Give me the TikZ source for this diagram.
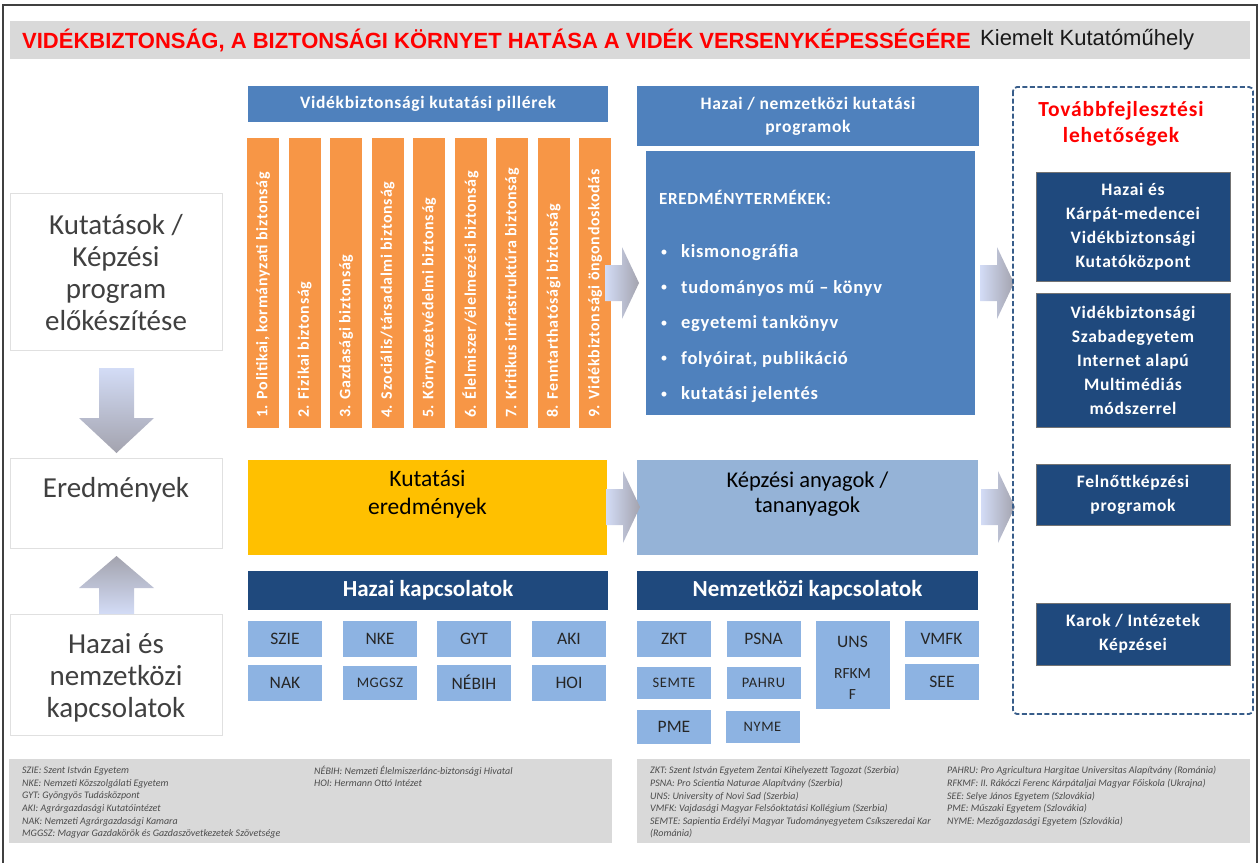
\documentclass[tikz,border=0pt]{standalone}
\usepackage{fontspec}
\setmainfont{Carlito}
\newfontfamily\ritka{Carlito}[LetterSpace=4]
\newfontfamily\cimfont{Liberation Sans}
\usetikzlibrary{positioning}
\definecolor{sav}{HTML}{D9D9D9}
\definecolor{kozepkek}{HTML}{4F81BD}
\definecolor{narancs}{HTML}{F79646}
\definecolor{arany}{HTML}{FFC000}
\definecolor{halvanykek}{HTML}{95B3D7}
\definecolor{sotetkek}{HTML}{1F497D}
\definecolor{kiskek}{HTML}{8DB3E2}
\definecolor{szaggatott}{HTML}{385D8A}
\definecolor{nyilvilag}{HTML}{D3DCF6}
\definecolor{nyilszurke}{HTML}{A3A3AE}
\newcommand{\betu}[2]{\fontsize{#1}{#2}\selectfont}
\tikzset{
  balbox/.style={draw=black!12, fill=white, inner sep=0pt, minimum width=212pt},
  baltext/.style={text=black!75, align=center, inner sep=0pt, font=\betu{29}{32}},
  fejlec/.style={fill=kozepkek, text=white, align=center, inner sep=0pt, font=\ritka\bfseries\betu{17.5}{23}},
  pillerbox/.style={fill=narancs, minimum width=32pt, minimum height=290pt, inner sep=0pt},
  pillertext/.style={rotate=90, anchor=west, text=white, inner sep=0pt, font=\ritka\bfseries\betu{16}{17}},
  kapcsfej/.style={fill=sotetkek, text=white, inner sep=0pt, minimum height=39pt, font=\bfseries\betu{23}{25}},
  kisbox/.style={fill=kiskek, text=black!85, align=center, inner sep=0pt, minimum width=74pt, minimum height=36pt, font=\betu{17.5}{19}},
  kisbetu/.style={font=\ritka\betu{14.5}{16}},
  termektext/.style={anchor=west, text=white, inner sep=0pt, font=\ritka\bfseries\betu{18.5}{20}},
  jobbbox/.style={fill=sotetkek, draw=black!55, text=white, align=center, inner sep=0pt, minimum width=194pt, font=\ritka\bfseries\betu{17.5}{24}},
  labjegy/.style={anchor=west, inner sep=0pt, text=black!70, font=\itshape\betu{10}{11}},
  labsav/.style={fill=sav, inner sep=0pt}
}

\begin{document}
\begin{tikzpicture}[x=1pt,y=-1pt]
\useasboundingbox (0,0) rectangle (1260,862);
\draw[line width=2pt, black!75] (3,870) -- (3,5) -- (1257,5) -- (1257,870);

% cim
\node (cimsav) [fill=sav, minimum width=1240pt, minimum height=38pt, inner sep=0pt] at (630,40) {};
\node (cim) [anchor=west, inner sep=0pt, text=red, font=\cimfont\bfseries\betu{22}{24}] at (22,40)
  {VIDÉKBIZTONSÁG, A BIZTONSÁGI KÖRNYET HATÁSA A VIDÉK VERSENYKÉPESSÉGÉRE};
\node (kiemelt) [right=9pt of cim, inner sep=0pt, text=black!90, font=\cimfont\betu{22}{24}] {Kiemelt Kutatóműhely};

% bal oszlop
\node (kutatasbox) [balbox, minimum height=157pt] at (116,271.5) {};
\node (kutatas) [baltext] at (116,273) {Kutatások /\\Képzési\\program\\előkészítése};
\node (eredmbox) [balbox, minimum height=90pt] at (116,503) {};
\node (eredm) [baltext] at (116,490) {Eredmények};
\node (kapcsbox) [balbox, minimum height=121pt] at (116,674.5) {};
\node (kapcs) [baltext] at (116,678) {Hazai és\\nemzetközi\\kapcsolatok};
\shade[top color=nyilvilag, middle color=nyilvilag, bottom color=nyilszurke]
  (99,368) -- (134,368) -- (134,418) -- (154,418) -- (116.5,453) -- (79,418) -- (99,418) -- cycle;
\shade[top color=nyilszurke, middle color=nyilvilag, bottom color=nyilvilag]
  (116.5,556) -- (154,588) -- (134,588) -- (134,614) -- (99,614) -- (99,588) -- (79,588) -- cycle;

% pillerek
\node (pillerfej) [fejlec, minimum width=360pt, minimum height=36pt] at (428,104) {Vidékbiztonsági kutatási pillérek};
\foreach \t [count=\i] in {{1. Politikai, kormányzati biztonság}, {2. Fizikai biztonság},
    {3. Gazdasági biztonság}, {4. Szociális/társadalmi biztonság}, {5. Környezetvédelmi biztonság},
    {6. Élelmiszer/élelmezési biztonság}, {7. Kritikus infrastruktúra biztonság},
    {8. Fenntarthatósági biztonság}, {9. Vidékbiztonsági öngondoskodás}} {
  \node (piller\i) [pillerbox] at (221.5+41.5*\i,283) {};
  \node (pillertxt\i) [pillertext] at (221.5+41.5*\i,418) {\t};
}
\node (kuteredm) [fill=arany, minimum width=359pt, minimum height=95pt, inner sep=0pt] at (427.5,507.5) {};
\node (kuteredmtxt) [align=center, inner sep=0pt, font=\betu{23.5}{28}] at (427.5,494) {Kutatási\\eredmények};
\node (hazaifej) [kapcsfej, minimum width=360pt] at (428,590.5) {Hazai kapcsolatok};
\foreach \t/\x/\y [count=\i] in {SZIE/285/639, NKE/380/639, GYT/474/639, AKI/569/639,
    NAK/285/682.5, NÉBIH/474/682.5, HOI/569/682.5}
  \node (hk\i) [kisbox] at (\x,\y) {\t};
\node (hk8) [kisbox, kisbetu, minimum height=34pt] at (380,682.5) {MGGSZ};

% programok
\node (progfej) [fejlec, minimum width=342pt, minimum height=60pt] at (808,116) {Hazai / nemzetközi kutatási\\programok};
\node (termekek) [fill=kozepkek, minimum width=329pt, minimum height=264pt, inner sep=0pt] at (810.5,283) {};
\node (termekcim) [termektext, font=\ritka\bfseries\betu{17}{19}] at (659,197) {EREDMÉNYTERMÉKEK:};
\foreach \t [count=\i] in {kismonográfia, tudományos mű – könyv, egyetemi tankönyv,
    {folyóirat, publikáció}, kutatási jelentés} {
  \node (pont\i) [text=white, inner sep=0pt, font=\betu{14}{16}] at (664,217.5+35.5*\i) {•};
  \node (termek\i) [termektext] at (681,217.5+35.5*\i) {\t};
}
\node (kepzesi) [fill=halvanykek, minimum width=341pt, minimum height=95pt, inner sep=0pt] at (807.5,507.5) {};
\node (kepzesitxt) [align=center, inner sep=0pt, font=\betu{22.5}{25}] at (807.5,494.5) {Képzési anyagok /\\tananyagok};
\node (nemzfej) [kapcsfej, minimum width=341pt] at (807.5,590.5) {Nemzetközi kapcsolatok};
\node (nk1) [kisbox] at (674,639) {ZKT};
\node (nk2) [kisbox] at (763.5,639) {PSNA};
\node (nk3) [kisbox, minimum height=88pt] at (852.5,665) {};
\node (nk3a) [inner sep=0pt, font=\betu{17.5}{19}, text=black!85] at (852.5,642) {UNS};
\node (nk3b) [inner sep=0pt, align=center, font=\betu{15.5}{21}, text=black!85] at (852.5,684.5) {RFKM\\F};
\node (nk4) [kisbox] at (941.5,639) {VMFK};
\node (nk5) [kisbox, kisbetu, minimum height=32pt] at (674,683) {SEMTE};
\node (nk6) [kisbox, kisbetu, minimum height=32pt] at (763.5,683) {PAHRU};
\node (nk7) [kisbox] at (942,682) {SEE};
\node (nk8) [kisbox, minimum height=34pt] at (674,727) {PME};
\node (nk9) [kisbox, kisbetu, minimum height=32pt] at (762.5,727) {NYME};

% nyilak
\foreach \ax/\ay in {605/283, 980/283, 606/507, 981/507}
  \shade[left color=nyilvilag, middle color=nyilvilag, right color=nyilszurke]
    (\ax,\ay-18) -- (\ax+17,\ay-18) -- (\ax+17,\ay-36) -- (\ax+34,\ay) -- (\ax+17,\ay+36)
    -- (\ax+17,\ay+18) -- (\ax,\ay+18) -- cycle;

% tovabbfejlesztes
\draw[szaggatott, line width=1.8pt, dash pattern=on 5pt off 2.5pt, rounded corners=4pt] (1013,87) rectangle (1253,714);
\node (tovabbcim) [text=red, align=center, inner sep=0pt, font=\ritka\bfseries\betu{21.5}{26}] at (1121,124) {Továbbfejlesztési\\lehetőségek};
\node (fejl1) [jobbbox, minimum height=109pt] at (1133,226.5) {Hazai és\\Kárpát-medencei\\Vidékbiztonsági\\Kutatóközpont};
\node (fejl2) [jobbbox, minimum height=134pt] at (1133,360) {Vidékbiztonsági\\Szabadegyetem\\Internet alapú\\Multimédiás\\módszerrel};
\node (fejl3) [jobbbox, minimum height=61pt] at (1133,494.5) {Felnőttképzési\\programok};
\node (fejl4) [jobbbox, minimum height=62pt] at (1133,634) {Karok / Intézetek\\Képzései};

% rovidites jegyzek
\node (labbal) [labsav, minimum width=603pt, minimum height=84pt] at (310.5,801) {};
\node (labjobb) [labsav, minimum width=613pt, minimum height=84pt] at (943.5,801) {};
\foreach \t [count=\i] in {SZIE: Szent István Egyetem, NKE: Nemzeti Közszolgálati Egyetem,
    GYT: Gyöngyös Tudásközpont, AKI: Agrárgazdasági Kutatóintézet,
    NAK: Nemzeti Agrárgazdasági Kamara, MGGSZ: Magyar Gazdakörök és Gazdaszövetkezetek Szövetsége}
  \node (lb\i) [labjegy] at (22,758.4+12.6*\i) {\t};
\node (lb7) [labjegy] at (314,771) {NÉBIH: Nemzeti Élelmiszerlánc-biztonsági Hivatal};
\node (lb8) [labjegy] at (314,783.6) {HOI: Hermann Ottó Intézet};
\foreach \t [count=\i] in {ZKT: Szent István Egyetem Zentai Kihelyezett Tagozat (Szerbia),
    PSNA: Pro Scientia Naturae Alapítvány (Szerbia), UNS: University of Novi Sad (Szerbia),
    VMFK: Vajdasági Magyar Felsőoktatási Kollégium (Szerbia),
    SEMTE: Sapientia Erdélyi Magyar Tudományegyetem Csíkszeredai Kar, (Románia)}
  \node (lj\i) [labjegy] at (650,758.4+12.6*\i) {\t};
\foreach \t [count=\i] in {PAHRU: Pro Agricultura Hargitae Universitas Alapítvány (Románia),
    RFKMF: II. Rákóczi Ferenc Kárpátaljai Magyar Főiskola (Ukrajna),
    SEE: Selye János Egyetem (Szlovákia), PME: Műszaki Egyetem (Szlovákia),
    NYME: Mezőgazdasági Egyetem (Szlovákia)}
  \node (lk\i) [labjegy] at (947,758.4+12.6*\i) {\t};
\end{tikzpicture}
\end{document}
